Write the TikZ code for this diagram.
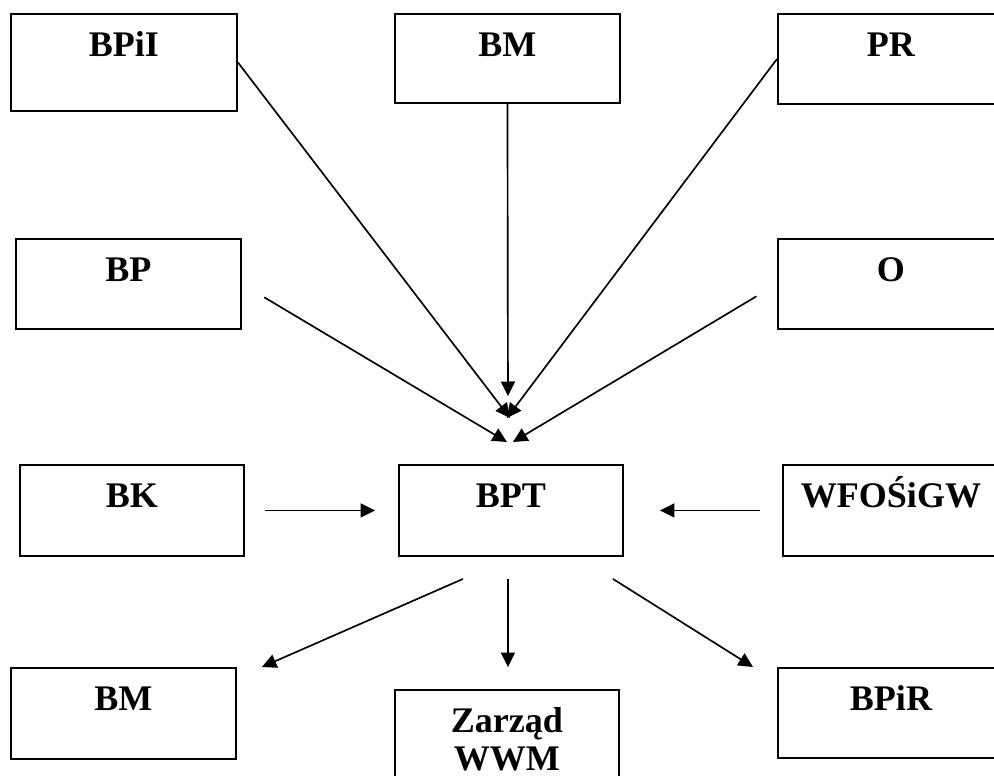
\documentclass[tikz,border=0pt]{standalone}
\usepackage{fontspec}
\setmainfont{Liberation Serif}
\usetikzlibrary{calc,arrows.meta}

\begin{document}
\begin{tikzpicture}[x=0.2mm, y=-0.2mm,
  box/.style={draw, line width=1.1pt, anchor=north west, inner sep=0pt,
    text height=8.5mm, font=\bfseries\fontsize{20.5pt}{21.8pt}\selectfont},
  arr/.style={line width=0.95pt, -{Triangle[length=2.9mm, width=2.8mm]}}]

  % page area
  \clip (0,0) rectangle (994,776);
  \fill[white] (0,0) rectangle (994,776);

  % top row
  \node[box, minimum width=45.2mm, text depth=10.9mm] (bpii) at (10,13) {BPiI};
  \node[box, minimum width=45.0mm, text depth=9.3mm]  (bmt)  at (394,13) {BM};
  \node[box, minimum width=45.2mm, text depth=9.5mm]  (pr)   at (777,13) {PR};

  % second row
  \node[box, minimum width=45.0mm, text depth=9.5mm] (bp) at (15,238) {BP};
  \node[box, minimum width=45.2mm, text depth=9.5mm] (o)  at (777,238) {O};

  % middle row
  \node[box, minimum width=44.8mm, text depth=9.7mm] (bk)  at (19,464) {BK};
  \node[box, minimum width=44.8mm, text depth=9.7mm] (bpt) at (398,464) {BPT};
  \node[box, minimum width=43.2mm, text depth=9.7mm] (wf)  at (782,464) {WFOŚiGW};

  % bottom row
  \node[box, minimum width=45.0mm, text depth=9.7mm] (bmb)  at (10,667) {BM};
  \node[box, minimum width=44.8mm, text depth=11.5mm] (zw)  at (394,689)
    {\begin{tabular}[t]{@{}c@{}}Zarząd\\WWM\end{tabular}};
  \node[box, minimum width=45.2mm, text depth=9.5mm] (bpir) at (777,667) {BPiR};

  % inputs converging on BPT
  \draw[arr] (bpii.east) -- ($(bpt.north)+(-1,-46)$);
  \draw[arr] (pr.west)   -- ($(bpt.north)+(-4,-46)$);
  \draw[arr] (bmt.south) -- ($(bpt.north)+(-3,-68)$);
  \draw[arr, shorten <=5.2mm] (bp.east) -- ($(bpt.north)+(-4,-22)$);
  \draw[arr, shorten <=4.8mm] (o.west)  -- ($(bpt.north)+(2,-22)$);

  % side inputs
  \draw[arr, shorten <=4mm, shorten >=4.6mm] (bk.east) -- (bpt.west);
  \draw[arr, shorten <=4.4mm, shorten >=7.2mm] (wf.west) -- (bpt.east);

  % outputs of BPT
  \draw[arr] ($(bpt.south)+(-48,22)$) -- ($(bmb.north east)+(25,0)$);
  \draw[arr] ($(bpt.south)+(-3,22)$)  -- ($(zw.north)+(1,-22)$);
  \draw[arr] ($(bpt.south)+(102,22)$) -- ($(bpir.north west)+(-24,0)$);
\end{tikzpicture}
\end{document}
